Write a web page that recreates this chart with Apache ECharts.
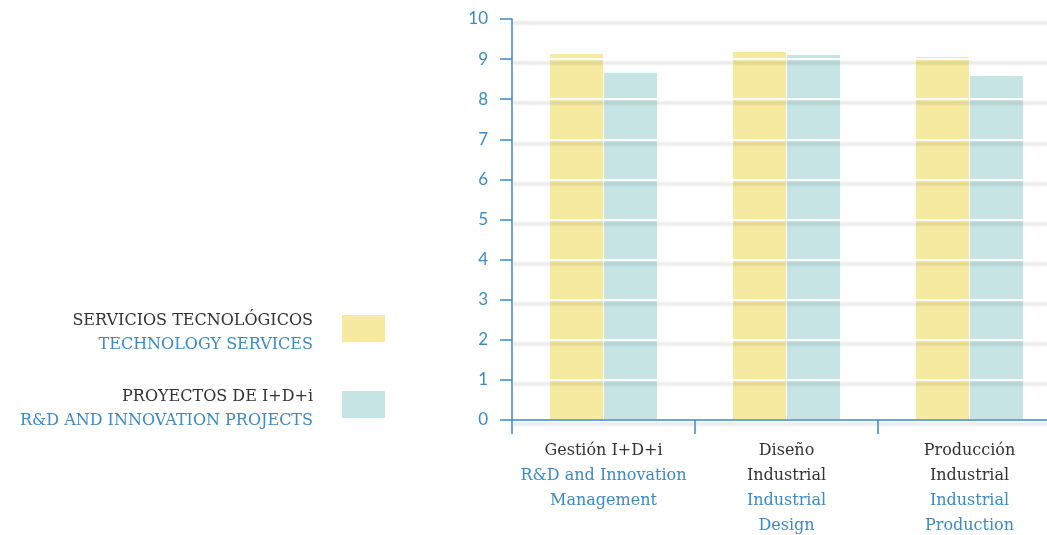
<!DOCTYPE html>
<html>
<head>
<meta charset="utf-8">
<script src="https://cdn.jsdelivr.net/npm/echarts@6/dist/echarts.min.js"></script>
<style>
  html, body { margin: 0; padding: 0; background: #fff; }
  #chart { width: 1047px; height: 535px; }
</style>
</head>
<body>
<div id="chart"></div>
<script>
// categories: spanish / english label per group
const catEs = ['Gestión I+D+i', 'Diseño\nIndustrial', 'Producción\nIndustrial'];
const catEn = ['R&D and Innovation\nManagement', 'Industrial\nDesign', 'Industrial\nProduction'];

// series values
const techServices = [9.13, 9.18, 9.05];
const rdProjects = [8.66, 9.1, 8.58];

// legend texts
const legendEs = ['SERVICIOS TECNOLÓGICOS', 'PROYECTOS DE I+D+i'];
const legendEn = ['TECHNOLOGY SERVICES', 'R&D AND INNOVATION PROJECTS'];

const YELLOW = '#f6eaa0';
const TEAL = '#c6e4e4';
const BLUE = '#3a8ac8';
const DARK = '#333333';
const FONT = '"DejaVu Serif", serif';

const chart = echarts.init(document.getElementById('chart'));

const legendGraphic = [];
[YELLOW, TEAL].forEach((c, i) => {
  const top = 315 + i * 76;
  legendGraphic.push({
    type: 'rect',
    shape: { x: 342, y: top, width: 43, height: 27 },
    style: { fill: c },
  });
  legendGraphic.push({
    type: 'text',
    style: {
      text: legendEs[i], x: 313, y: top + 6, align: 'right', verticalAlign: 'middle',
      font: '16px ' + FONT, fill: DARK,
    },
  });
  legendGraphic.push({
    type: 'text',
    style: {
      text: legendEn[i], x: 313, y: top + 30, align: 'right', verticalAlign: 'middle',
      font: '16px ' + FONT, fill: BLUE,
    },
  });
});

const option = {
  animation: false,
  grid: {
    left: 512,
    right: -14,
    top: 19,
    bottom: 115,
    containLabel: false,
    outerBoundsMode: 'none',
  },
  xAxis: {
    type: 'category',
    z: 4,
    data: catEs.map(s => s.replace('\n', ' ')),
    axisLine: { show: true, lineStyle: { color: BLUE, width: 1.5 } },
    axisTick: { show: true, length: 14, lineStyle: { color: BLUE, width: 1.5 } },
    axisLabel: {
      margin: 18,
      interval: 0,
      formatter: (v, i) => '{es|' + catEs[i] + '}\n{en|' + catEn[i] + '}',
      rich: {
        es: { fontFamily: FONT, fontSize: 16, color: DARK, lineHeight: 25, align: 'center' },
        en: { fontFamily: FONT, fontSize: 16, color: BLUE, lineHeight: 25, align: 'center' },
      },
    },
    splitLine: { show: false },
  },
  yAxis: {
    type: 'value',
    min: 0,
    max: 10,
    interval: 1,
    z: 3,
    axisLine: { show: true, lineStyle: { color: BLUE, width: 1.5 } },
    axisTick: { show: true, length: 12, lineStyle: { color: BLUE, width: 1.5 } },
    axisLabel: { margin: 24, color: BLUE, fontFamily: 'Lato', fontSize: 17 },
    splitLine: {
      show: true,
      lineStyle: {
        color: '#ffffff',
        width: 2,
        shadowColor: 'rgba(0,0,0,0.15)',
        shadowBlur: 3,
        shadowOffsetY: 4,
      },
    },
  },
  series: [
    {
      name: legendEn[0],
      type: 'bar',
      data: techServices,
      barWidth: 53,
      barGap: '2%',
      itemStyle: { color: YELLOW },
    },
    {
      name: legendEn[1],
      type: 'bar',
      data: rdProjects,
      barWidth: 53,
      barGap: '2%',
      itemStyle: { color: TEAL },
    },
  ],
  graphic: legendGraphic,
};

chart.setOption(option);
</script>
</body>
</html>
